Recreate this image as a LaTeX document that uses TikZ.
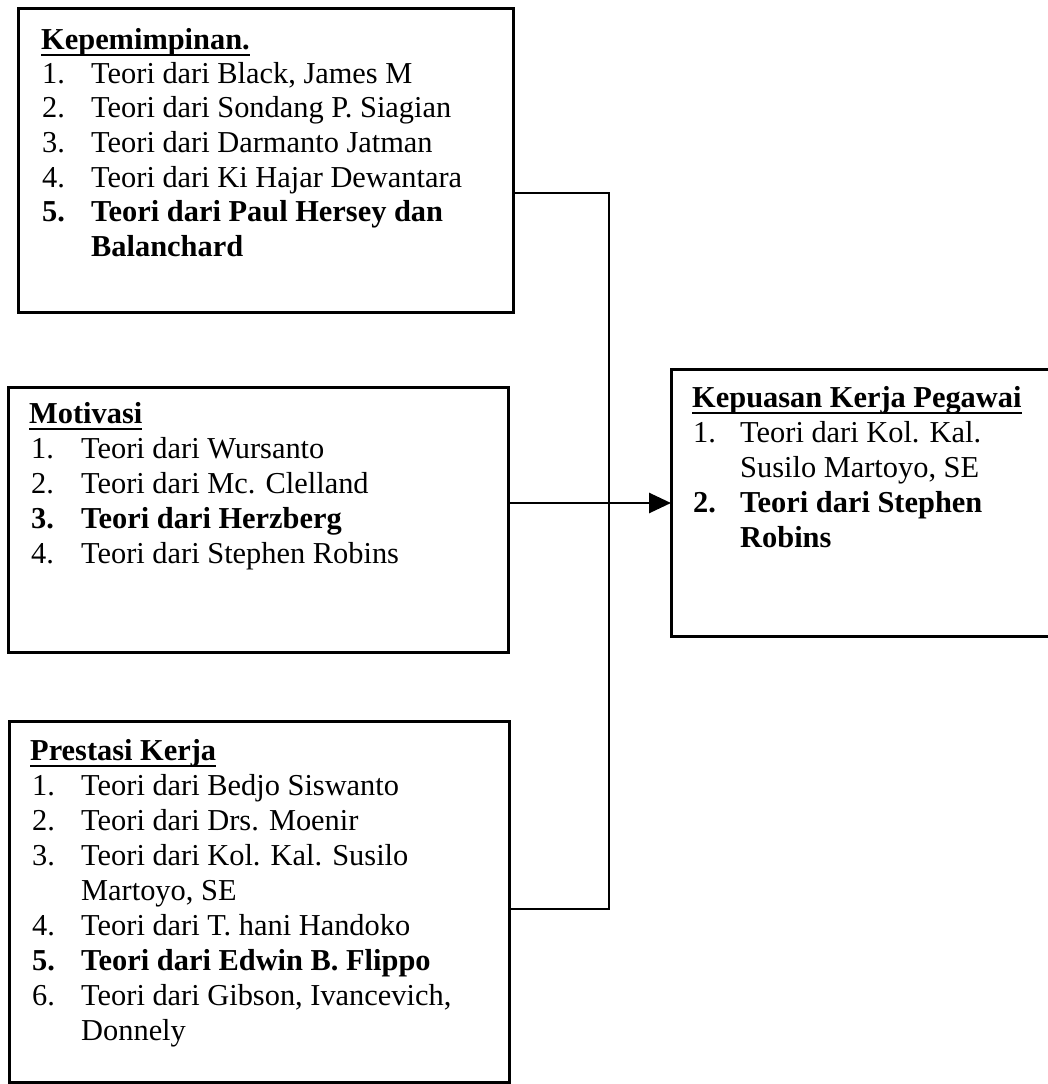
\documentclass[tikz,border=0pt]{standalone}
\usepackage{fontspec}
\setmainfont{Liberation Serif}
\usetikzlibrary{arrows.meta,calc}
\newcommand\ulbf[1]{\setbox0\hbox{\bfseries #1}\rlap{\rule[-7pt]{\wd0}{2.2pt}}\box0}
\newcommand\nm[3]{\makebox[#1][l]{#2}#3}
\begin{document}
\begin{tikzpicture}[x=1pt,y=-1pt,
  box/.style={draw,line width=3pt,rectangle,inner sep=0pt,outer sep=0pt,anchor=north west},
  txt/.style={anchor=base west,inner sep=0pt,font=\fontsize{30.4}{35}\selectfont},
  conn/.style={line width=2.8pt},
  arr/.style={line width=2.8pt,-{Triangle[length=22pt,width=20pt]}}]
\useasboundingbox (0,0) rectangle (1047,1084);
% boxes
\node[box,minimum width=495pt,minimum height=304pt] (B1) at (18,8) {};
\node[box,minimum width=500pt,minimum height=265pt] (B2) at (8,387) {};
\node[box,minimum width=500pt,minimum height=361pt] (B3) at (9,721) {};
\node[box,minimum width=420pt,minimum height=267pt] (B4) at (671,369) {};
% box 1
\node[txt] (t1) at (41,49) {\ulbf{Kepemimpinan.}};
\node[txt] (t1a) at (42,83) {\nm{49pt}{1.}{Teori dari Black, James M}};
\node[txt] (t1b) at (42,117.7) {\nm{49pt}{2.}{Teori dari Sondang P. Siagian}};
\node[txt] (t1c) at (42,152.4) {\nm{49pt}{3.}{Teori dari Darmanto Jatman}};
\node[txt] (t1d) at (42,187) {\nm{49pt}{4.}{Teori dari Ki Hajar Dewantara}};
\node[txt,font=\fontsize{30.4}{35}\selectfont\bfseries] (t1e) at (42,221.8) {\nm{49pt}{5.}{Teori dari Paul Hersey dan}};
\node[txt,font=\fontsize{30.4}{35}\selectfont\bfseries] (t1f) at (91,256.5) {Balanchard};
% box 2
\node[txt] (t2) at (29,423) {\ulbf{Motivasi}};
\node[txt] (t2a) at (31,458) {\nm{50pt}{1.}{Teori dari Wursanto}};
\node[txt] (t2b) at (31,493) {\nm{50pt}{2.}{Teori dari Mc. Clelland}};
\node[txt,font=\fontsize{30.4}{35}\selectfont\bfseries] (t2c) at (31,528) {\nm{50pt}{3.}{Teori dari Herzberg}};
\node[txt] (t2d) at (31,563) {\nm{50pt}{4.}{Teori dari Stephen Robins}};
% box 3
\node[txt] (t3) at (30,760) {\ulbf{Prestasi Kerja}};
\node[txt] (t3a) at (32,795) {\nm{49pt}{1.}{Teori dari Bedjo Siswanto}};
\node[txt] (t3b) at (32,830) {\nm{49pt}{2.}{Teori dari Drs. Moenir}};
\node[txt] (t3c) at (32,865) {\nm{49pt}{3.}{Teori dari Kol. Kal. Susilo}};
\node[txt] (t3d) at (81,900) {Martoyo, SE};
\node[txt] (t3e) at (32,935) {\nm{49pt}{4.}{Teori dari T. hani Handoko}};
\node[txt,font=\fontsize{30.4}{35}\selectfont\bfseries] (t3f) at (32,970) {\nm{49pt}{5.}{Teori dari Edwin B. Flippo}};
\node[txt] (t3g) at (32,1005) {\nm{49pt}{6.}{Teori dari Gibson, Ivancevich,}};
\node[txt] (t3h) at (81,1040) {Donnely};
% box 4
\node[txt] (t4) at (692,407) {\ulbf{Kepuasan Kerja Pegawai}};
\node[txt] (t4a) at (693,442) {\nm{47pt}{1.}{Teori dari Kol. Kal.}};
\node[txt] (t4b) at (740,477) {Susilo Martoyo, SE};
\node[txt,font=\fontsize{30.4}{35}\selectfont\bfseries] (t4c) at (693,512) {\nm{47pt}{2.}{Teori dari Stephen}};
\node[txt,font=\fontsize{30.4}{35}\selectfont\bfseries] (t4d) at (740,547) {Robins};
% connectors
\coordinate (j1) at (609,193);
\coordinate (j2) at (609,909);
\coordinate (a0) at (590,503);
\draw[conn] (j1 -| B1.east) -- (j1) -- (j2) -- (j2 -| B3.east);
\draw[arr] (a0 -| B2.east) -- (a0 -| B4.west);
\end{tikzpicture}
\end{document}
